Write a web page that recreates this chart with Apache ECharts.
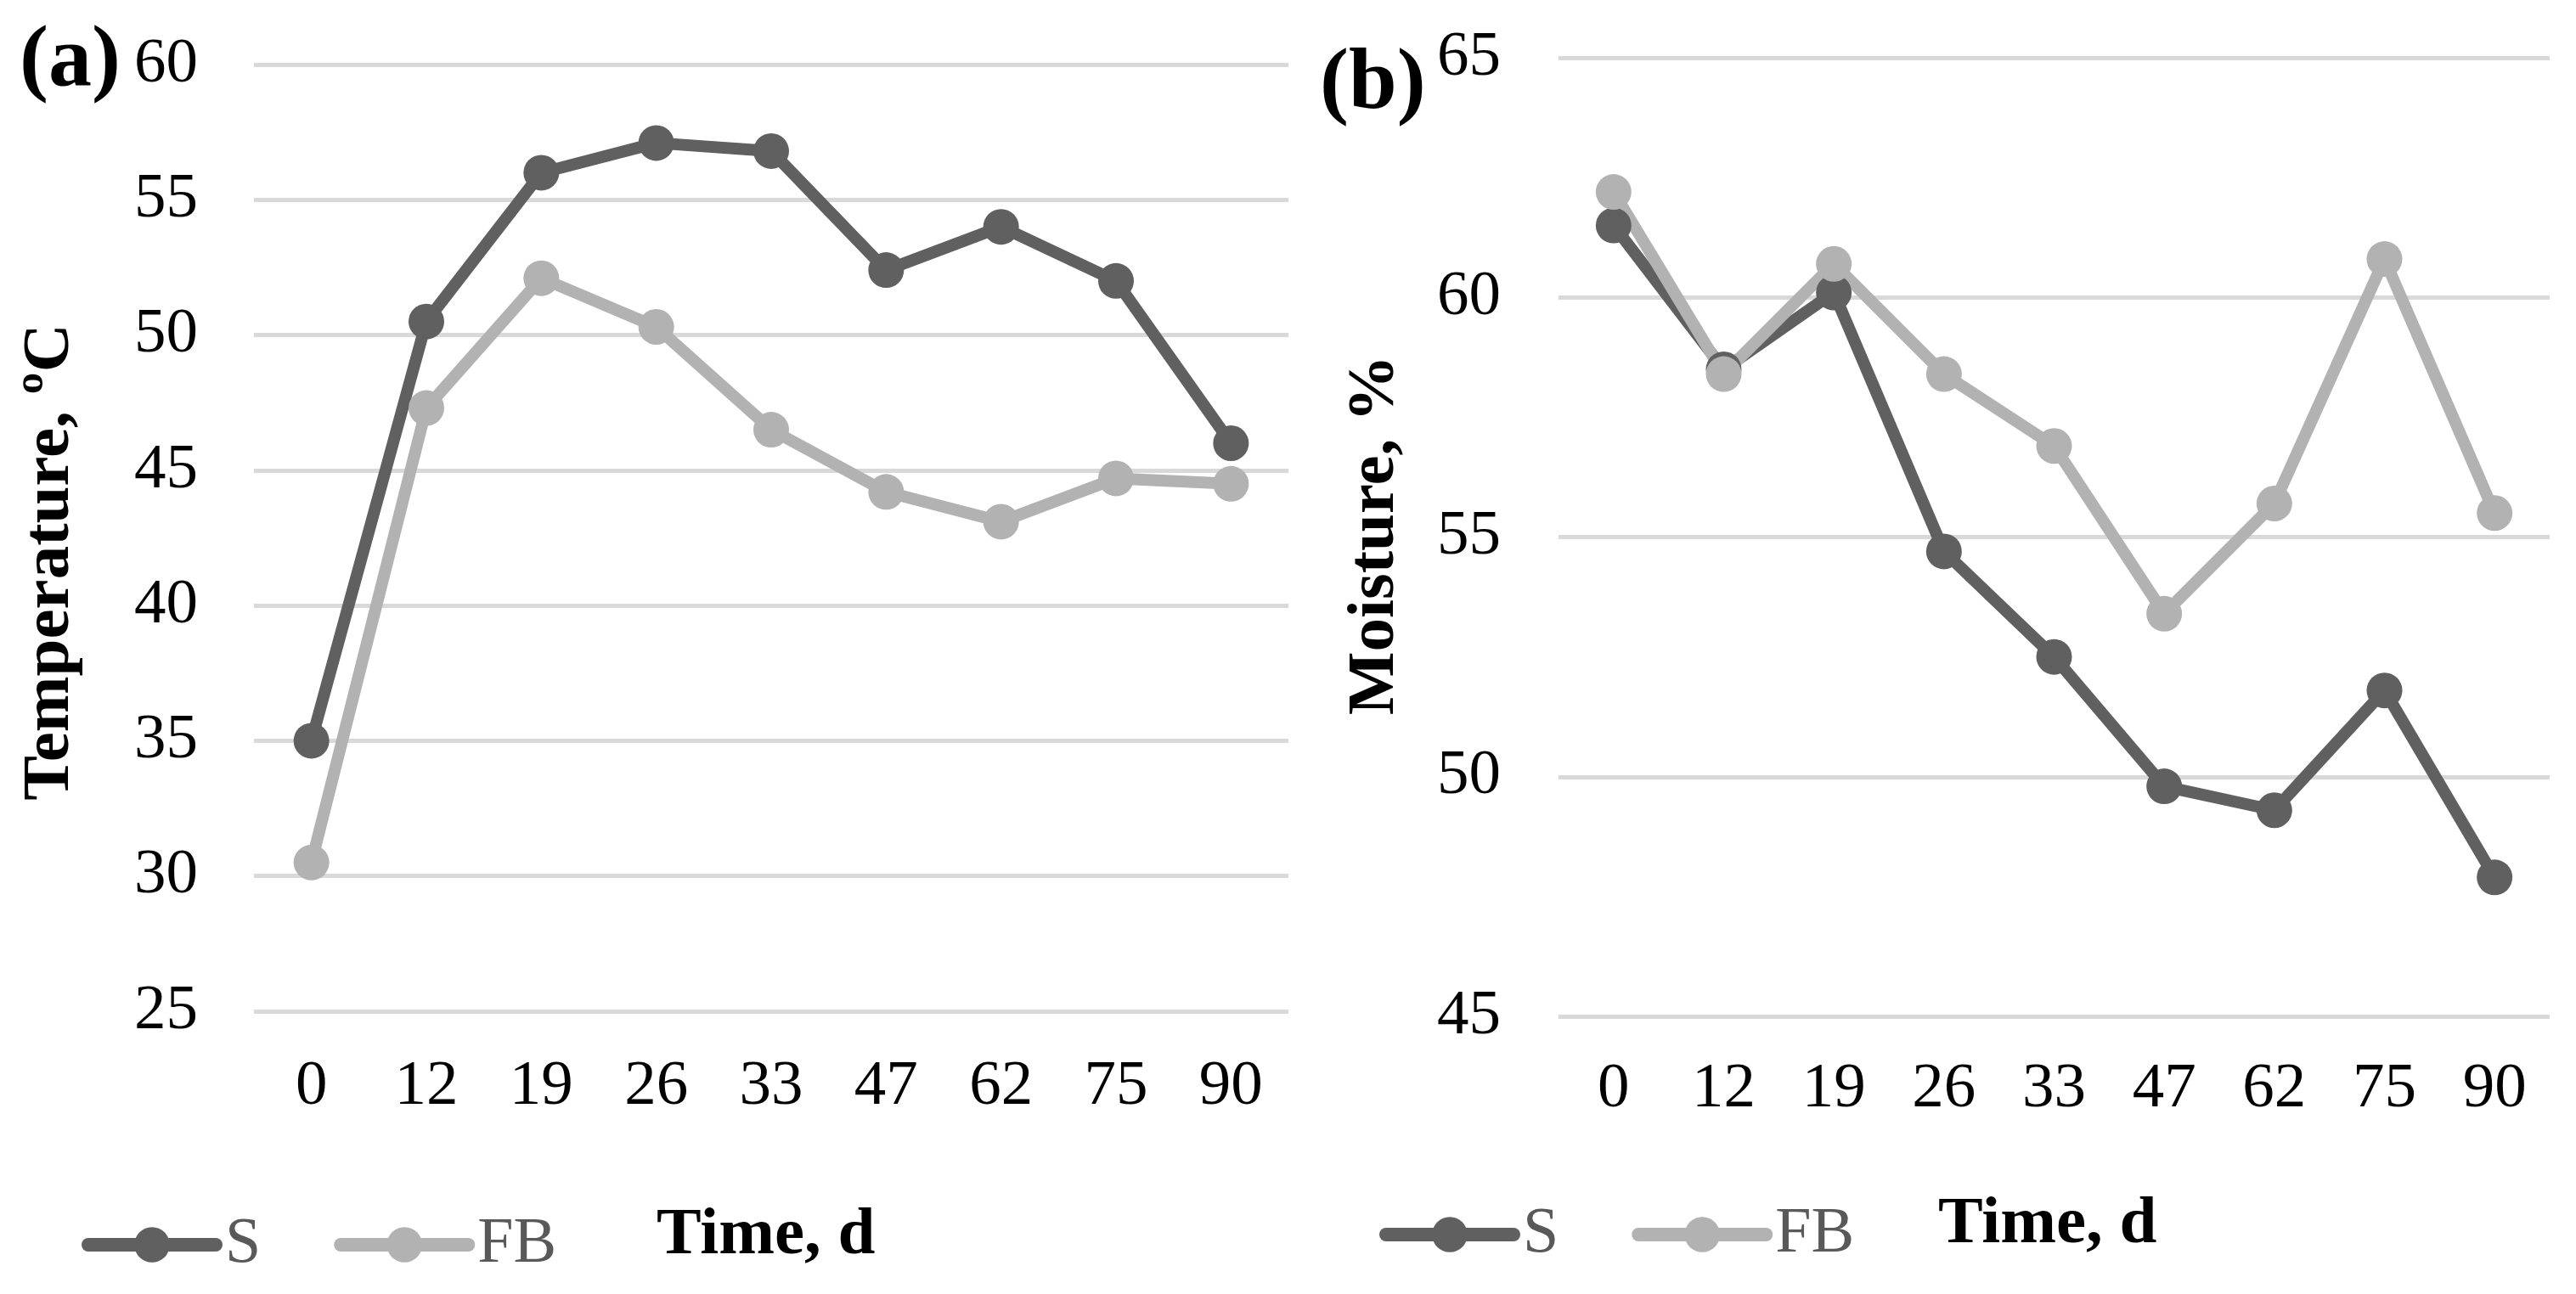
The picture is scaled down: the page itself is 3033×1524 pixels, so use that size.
<!DOCTYPE html>
<html>
<head>
<meta charset="utf-8">
<script src="https://cdn.jsdelivr.net/npm/echarts@6/dist/echarts.min.js"></script>
<style>
html,body{margin:0;padding:0;background:#fff;}
#chart{width:3033px;height:1524px;}
</style>
</head>
<body>
<div id="chart"></div>
<script>
const days = ['0','12','19','26','33','47','62','75','90'];
const tempS  = [35.0, 50.5, 56.0, 57.1, 56.8, 52.4, 54.0, 52.0, 46.0];
const tempFB = [30.5, 47.3, 52.1, 50.3, 46.5, 44.2, 43.1, 44.7, 44.5];
const moistS  = [61.5, 58.5, 60.1, 54.7, 52.5, 49.8, 49.3, 51.8, 47.9];
const moistFB = [62.2, 58.4, 60.7, 58.4, 56.9, 53.4, 55.7, 60.8, 55.5];
const seriesNames = ['S', 'FB'];

const FONT = 'Liberation Serif';
const COL_S = '#606060';
const COL_FB = '#b2b2b2';

const chart = echarts.init(document.getElementById('chart'), null, {renderer: 'canvas'});

function xAxisCfg(gridIndex, margin) {
  return {
    type: 'category', gridIndex: gridIndex, data: days, boundaryGap: true,
    axisLine: {show: false}, axisTick: {show: false},
    axisLabel: {fontFamily: FONT, fontSize: 75, color: '#000', margin: margin}
  };
}
function yAxisCfg(gridIndex, min, max, margin) {
  return {
    type: 'value', gridIndex: gridIndex, min: min, max: max, interval: 5,
    axisLine: {show: false}, axisTick: {show: false},
    axisLabel: {fontFamily: FONT, fontSize: 75, color: '#000', margin: margin},
    splitLine: {show: true, lineStyle: {color: '#d9d9d9', width: 5}}
  };
}
function lineSeries(name, data, idx, color) {
  return {
    name: name, type: 'line', xAxisIndex: idx, yAxisIndex: idx, data: data,
    symbol: 'circle', symbolSize: 42, showSymbol: true,
    lineStyle: {color: color, width: 14},
    itemStyle: {color: color},
    emphasis: {disabled: true},
    animation: false
  };
}
function legendCfg(left, top) {
  return {
    left: left, top: top, padding: 0, orient: 'horizontal',
    itemWidth: 150, itemHeight: 52, itemGap: 86,
    selectedMode: false,
    data: seriesNames,
    textStyle: {fontFamily: FONT, fontSize: 76, color: '#595959', padding: [0, 0, 0, 6]},
    lineStyle: {width: 16, cap: 'round'}
  };
}

const option = {
  backgroundColor: '#ffffff',
  animation: false,
  grid: [
    {left: 299, top: 76, width: 1218, height: 1115, containLabel: false},
    {left: 1835, top: 68, width: 1167, height: 1129, containLabel: false}
  ],
  xAxis: [xAxisCfg(0, 52), xAxisCfg(1, 49)],
  yAxis: [yAxisCfg(0, 25, 60, 66), yAxisCfg(1, 45, 65, 68)],
  legend: [legendCfg(96, 1428), legendCfg(1624, 1416)],
  series: [
    lineSeries(seriesNames[0], tempS, 0, COL_S),
    lineSeries(seriesNames[1], tempFB, 0, COL_FB),
    lineSeries(seriesNames[0], moistS, 1, COL_S),
    lineSeries(seriesNames[1], moistFB, 1, COL_FB)
  ],
  graphic: [
    {type: 'text', x: 23, y: 74, style: {text: '(a)', fontFamily: FONT, fontWeight: 'bold', fontSize: 102, fill: '#000', align: 'left', verticalAlign: 'middle'}},
    {type: 'text', x: 1554, y: 101, style: {text: '(b)', fontFamily: FONT, fontWeight: 'bold', fontSize: 102, fill: '#000', align: 'left', verticalAlign: 'middle'}},
    {type: 'text', x: 60, y: 662, rotation: Math.PI / 2, style: {text: 'Temperature, ºC', fontFamily: FONT, fontWeight: 'bold', fontSize: 79, fill: '#000', align: 'center', verticalAlign: 'middle'}},
    {type: 'text', x: 1620, y: 630, rotation: Math.PI / 2, style: {text: 'Moisture, %', fontFamily: FONT, fontWeight: 'bold', fontSize: 79, fill: '#000', align: 'center', verticalAlign: 'middle'}},
    {type: 'text', x: 773, y: 1456, style: {text: 'Time, d', fontFamily: FONT, fontWeight: 'bold', fontSize: 79, fill: '#000', align: 'left', verticalAlign: 'middle'}},
    {type: 'text', x: 2282, y: 1443, style: {text: 'Time, d', fontFamily: FONT, fontWeight: 'bold', fontSize: 79, fill: '#000', align: 'left', verticalAlign: 'middle'}}
  ]
};
chart.setOption(option);
</script>
</body>
</html>
